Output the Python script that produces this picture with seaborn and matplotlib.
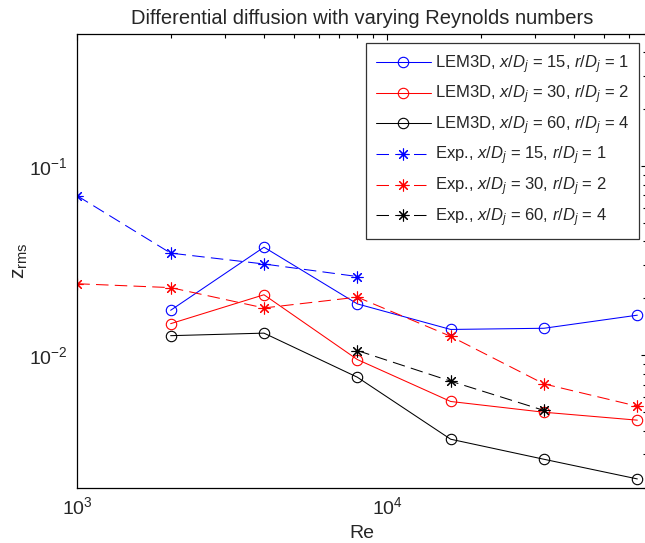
import numpy as np
import pandas as pd
import matplotlib
matplotlib.use("Agg")
import matplotlib.pyplot as plt
import seaborn as sns
from matplotlib.ticker import NullFormatter

# Reynolds numbers of the LEM3D runs and the experiments
re_lem = [2000, 4000, 8000, 16000, 32000, 64000]
re_exp15 = [1000, 2000, 4000, 8000]
re_exp30 = [1000, 2000, 4000, 8000, 16000, 32000, 64000]
re_exp60 = [8000, 16000, 32000]

# rms of the differential diffusion variable z
lem_15 = [0.0173, 0.0373, 0.0187, 0.0137, 0.0139, 0.0163]
lem_30 = [0.0147, 0.0209, 0.0095, 0.0057, 0.0050, 0.00454]
lem_60 = [0.0127, 0.0131, 0.00766, 0.0036, 0.00282, 0.00222]
exp_15 = [0.0697, 0.0347, 0.0304, 0.0261]
exp_30 = [0.0239, 0.0228, 0.0178, 0.0203, 0.0126, 0.00706, 0.00538]
exp_60 = [0.0106, 0.0073, 0.00511]

labels = [
    r"LEM3D, $x/D_j$ = 15, $r/D_j$ = 1",
    r"LEM3D, $x/D_j$ = 30, $r/D_j$ = 2",
    r"LEM3D, $x/D_j$ = 60, $r/D_j$ = 4",
    r"Exp., $x/D_j$ = 15, $r/D_j$ = 1",
    r"Exp., $x/D_j$ = 30, $r/D_j$ = 2",
    r"Exp., $x/D_j$ = 60, $r/D_j$ = 4",
]

sns.set_theme(style="white")
plt.rcParams.update({
    "font.family": ["Liberation Sans", "DejaVu Sans"],
    "mathtext.fontset": "custom",
    "mathtext.rm": "Liberation Sans",
    "mathtext.it": "Liberation Sans:italic",
    "mathtext.bf": "Liberation Sans:bold",
    "axes.edgecolor": "black",
    "axes.linewidth": 0.9,
    "lines.scale_dashes": True,
})

W, H, DPI = 645, 543, 100
fig = plt.figure(figsize=(W / DPI, H / DPI), dpi=DPI)
x0, x1, y0, y1 = 77.3, 646.5, 34.0, 487.5
ax = fig.add_axes([x0 / W, (H - y1) / H, (x1 - x0) / W, (y1 - y0) / H])
ax.set_xscale("log")
ax.set_yscale("log")

lw = 0.75
dash = (12, 6)
series = [
    (re_lem, lem_15, "blue", "o", "-", labels[0]),
    (re_lem, lem_30, "red", "o", "-", labels[1]),
    (re_lem, lem_60, "black", "o", "-", labels[2]),
    (re_exp15, exp_15, "blue", (8, 2, 0), "--", labels[3]),
    (re_exp30, exp_30, "red", (8, 2, 0), "--", labels[4]),
    (re_exp60, exp_60, "black", (8, 2, 0), "--", labels[5]),
]
for xs, ys, col, mk, ls, lab in series:
    df = pd.DataFrame({"Re": xs, "zrms": ys})
    kw = dict(color=col, marker=mk, linewidth=lw, label=lab, ax=ax,
              markeredgecolor=col, markeredgewidth=0.8)
    if mk == "o":
        kw.update(markerfacecolor="none", markersize=7.5)
    else:
        kw.update(markersize=8.5)
    line = sns.lineplot(data=df, x="Re", y="zrms", **kw).lines[-1]
    if ls == "--":
        line.set_dashes(dash)

ax.set_xlim(1000, 68500)
ax.set_ylim(0.002, 0.5)
ax.xaxis.set_minor_formatter(NullFormatter())
ax.yaxis.set_minor_formatter(NullFormatter())
ax.tick_params(which="both", direction="in", top=True, right=True,
               color="black", width=0.8)
ax.tick_params(which="major", length=4, labelsize=14)
ax.tick_params(which="minor", length=2.8)
ax.tick_params(axis="x", which="major", pad=6)
ax.tick_params(axis="y", which="major", pad=7)

ax.set_title("Differential diffusion with varying Reynolds numbers",
             fontsize=14.5, pad=7)
ax.set_xlabel("Re", fontsize=14, labelpad=5)
ax.set_ylabel(r"$\mathrm{z_{rms}}$", fontsize=15, labelpad=-1)

leg = ax.legend(loc="upper right", bbox_to_anchor=(0.987, 0.98),
                borderaxespad=0, fontsize=12, frameon=True, fancybox=False,
                handlelength=3.3, handletextpad=0.25, labelspacing=0.48,
                borderpad=0.6)
leg.get_frame().set_edgecolor("black")
leg.get_frame().set_linewidth(0.9)

fig.savefig("out.png", dpi=DPI, facecolor="white")
